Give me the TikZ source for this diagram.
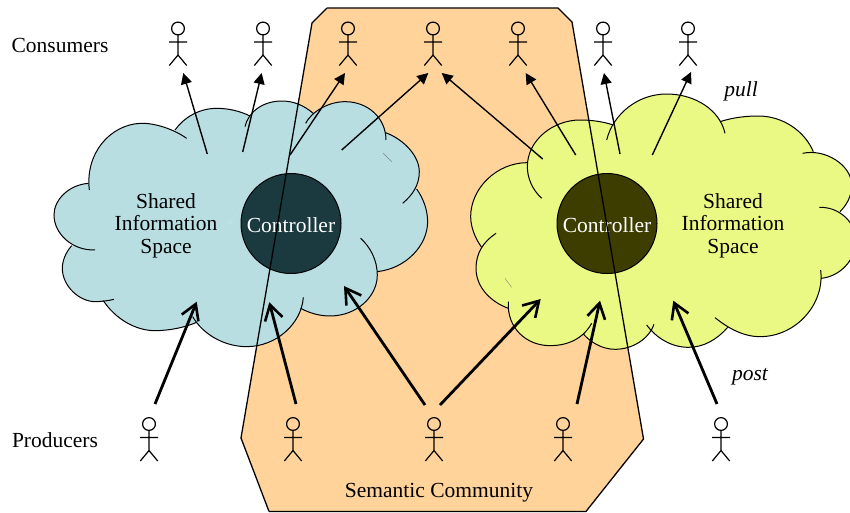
\documentclass[tikz,border=0pt]{standalone}
\usepackage{fontspec}
\setmainfont{Liberation Serif}
\usetikzlibrary{arrows.meta}
\definecolor{semfill}{HTML}{FFD399}
\definecolor{cloudL}{HTML}{B8DEE2}
\definecolor{cloudR}{HTML}{EAF884}
\definecolor{ctrlL}{HTML}{1A3A40}
\definecolor{ctrlR}{HTML}{3D3D00}
\tikzset{
  outline/.style={draw=black,line width=1.3pt,dash pattern=on 1.3pt off 0.25pt},
  lobe/.style={draw=black,line width=1pt},
  controller/.style={circle,minimum size=100pt,inner sep=0pt,draw=black,line width=1pt,text=white,font=\fontsize{21.5}{22.5}\selectfont},
  txt/.style={inner sep=0pt,font=\fontsize{21.5}{22.5}\selectfont,align=center},
  txti/.style={inner sep=0pt,font=\fontsize{21.5}{22.5}\selectfont\itshape},
  pullarrow/.style={line width=1.4pt,dash pattern=on 1.6pt off 0.3pt,-{Triangle[length=11pt,width=11pt,sep=0pt]}},
  postarrow/.style={line width=2.8pt,-{Straight Barb[length=15pt,width=18pt,line width=2.6pt]}},
  actor/.pic={
    \draw[line width=1.2pt] (0,0) circle (6.4);
    \draw[line width=1.2pt] (-9,13.5) -- (9,13.5) (0,6.4) -- (0,26.5) (-8.7,37) -- (0,26.5) -- (8.7,37);
  }
}
\newcommand{\lobeF}[2]{\fill[#2] #1 -- (\cx,400) -- cycle;}
\newcommand{\lobeD}[2]{\draw[lobe] #1;}
\newcommand{\cloudLeft}[2]{%
#1{(440,145) .. controls (390,110) and (330,98) .. (300,100) .. controls (210,105) and (135,190) .. (148,300)}{#2}
#1{(145,280) .. controls (85,285) and (42,330) .. (42,375) .. controls (42,430) and (95,482) .. (165,480)}{#2}
#1{(95,467) .. controls (75,490) and (67,515) .. (67,535) .. controls (67,590) and (120,635) .. (165,635) .. controls (185,635) and (205,632) .. (222,628)}{#2}
#1{(190,632) .. controls (225,685) and (285,722) .. (345,722) .. controls (390,722) and (435,712) .. (470,697)}{#2}
#1{(458,680) .. controls (490,735) and (555,770) .. (620,770) .. controls (710,770) and (785,700) .. (790,622)}{#2}
#1{(782,655) .. controls (810,670) and (840,678) .. (870,678) .. controls (950,678) and (1012,620) .. (1012,555) .. controls (1012,510) and (990,470) .. (962,445)}{#2}
#1{(1012,545) .. controls (1100,535) and (1163,465) .. (1163,395) .. controls (1163,360) and (1150,325) .. (1130,297)}{#2}
#1{(1037,128) .. controls (1095,150) and (1138,200) .. (1138,245) .. controls (1138,285) and (1118,315) .. (1088,340)}{#2}
#1{(1038,150) .. controls (1038,85) and (985,35) .. (915,35) .. controls (865,35) and (815,65) .. (797,100)}{#2}
#1{(820,70) .. controls (790,45) and (760,33) .. (725,33) .. controls (670,33) and (625,65) .. (615,110)}{#2}
#1{(630,78) .. controls (600,63) and (565,55) .. (530,55) .. controls (475,55) and (430,85) .. (405,120)}{#2}
}
\newcommand{\cloudRight}[2]{%
#1{(275,325) .. controls (248,300) and (232,265) .. (232,230) .. controls (232,150) and (310,90) .. (390,90) .. controls (425,90) and (460,95) .. (490,105)}{#2}
#1{(470,150) .. controls (490,70) and (565,12) .. (650,12) .. controls (735,12) and (810,60) .. (825,130)}{#2}
#1{(810,95) .. controls (850,82) and (890,78) .. (925,78) .. controls (1000,78) and (1065,125) .. (1090,185)}{#2}
#1{(1058,190) .. controls (1125,175) and (1205,225) .. (1205,285) .. controls (1205,320) and (1190,345) .. (1170,365)}{#2}
#1{(1108,352) .. controls (1170,350) and (1218,400) .. (1218,450) .. controls (1218,510) and (1170,560) .. (1113,565)}{#2}
#1{(1112,540) .. controls (1125,640) and (1040,740) .. (930,740) .. controls (880,740) and (835,715) .. (795,683)}{#2}
#1{(833,712) .. controls (800,750) and (760,772) .. (715,772) .. controls (665,772) and (620,745) .. (590,705)}{#2}
#1{(612,703) .. controls (595,750) and (545,778) .. (495,778) .. controls (455,778) and (420,755) .. (400,732)}{#2}
#1{(425,700) .. controls (400,745) and (355,767) .. (300,767) .. controls (230,767) and (170,715) .. (175,635)}{#2}
#1{(175,655) .. controls (120,635) and (78,590) .. (78,535) .. controls (78,490) and (100,455) .. (138,430)}{#2}
#1{(95,472) .. controls (75,445) and (62,410) .. (62,380) .. controls (62,295) and (140,218) .. (232,218)}{#2}
}
\begin{document}
\begin{tikzpicture}[x=1pt,y=-1pt]
\useasboundingbox (0,0) rectangle (850,512);
\clip (0,0) rectangle (850,512);
% semantic community
\coordinate (s1) at (327,8); \coordinate (s2) at (558,8); \coordinate (s3) at (572,22);
\coordinate (s4) at (643.5,439); \coordinate (s5) at (586,511.4); \coordinate (s6) at (269,511.4);
\coordinate (s7) at (241,438); \coordinate (s8) at (312,23);
\fill[semfill] (s1)--(s2)--(s3)--(s4)--(s5)--(s6)--(s7)--(s8)--cycle;
% left cloud
\begin{scope}[shift={(40,90)},x=0.3333pt,y=-0.3333pt]
\def\cx{570}
\cloudLeft{\lobeF}{cloudL}
\cloudLeft{\lobeD}{}
\draw[gray,line width=0.5pt] (1030,190)--(1055,215);
\end{scope}
% right cloud
\begin{scope}[shift={(450,90)},x=0.3333pt,y=-0.3333pt]
\def\cx{620}
\cloudRight{\lobeF}{cloudR}
\cloudRight{\lobeD}{}
\draw[gray,line width=0.4pt] (165,565)--(185,592);
\end{scope}
% controllers
\node[controller,fill=ctrlL] (ctrlA) at (291,223.5) {\raisebox{-8.5pt}[0pt][0pt]{Controller}};
\node[controller,fill=ctrlR] (ctrlB) at (607,223.5) {\raisebox{-8.5pt}[0pt][0pt]{Controller}};
% outline on top
\draw[outline] (s1)--(s2)--(s3)--(s4)--(s5)--(s6)--(s7)--(s8)--cycle;
% actors
\foreach \n/\x in {c1/178,c2/263,c3/348,c4/433,c5/518,c6/603,c7/688}
  \pic (\n) at (\x,28.5) {actor};
\foreach \n/\x in {p1/149,p2/293,p3/434,p4/563,p5/721}
  \pic (\n) at (\x,424) {actor};
% arrow ends
\coordinate (u1a) at (207.3,154); \coordinate (u1b) at (183.3,73);
\coordinate (u2a) at (242.7,152); \coordinate (u2b) at (261.7,73);
\coordinate (u3a) at (290,155);   \coordinate (u3b) at (345,73);
\coordinate (u4a) at (341.7,150); \coordinate (u4b) at (428.3,73);
\coordinate (u5a) at (542.7,159); \coordinate (u5b) at (441.7,73);
\coordinate (u6a) at (575.7,155); \coordinate (u6b) at (525.7,73);
\coordinate (u7a) at (620,154);   \coordinate (u7b) at (604,73);
\coordinate (u8a) at (652.3,155); \coordinate (u8b) at (691,72);
\foreach \i in {1,...,8} \draw[pullarrow] (u\i a) -- (u\i b);
\coordinate (d1a) at (155,404); \coordinate (d1b) at (196.7,301.7);
\coordinate (d2a) at (296,404); \coordinate (d2b) at (269.3,302.3);
\coordinate (d3a) at (425,405); \coordinate (d3b) at (344,286);
\coordinate (d4a) at (440,405); \coordinate (d4b) at (540.7,299);
\coordinate (d5a) at (577,404); \coordinate (d5b) at (600,300.7);
\coordinate (d6a) at (717,404); \coordinate (d6b) at (673.3,300.7);
\foreach \i in {1,...,6} \draw[postarrow] (d\i a) -- (d\i b);
% labels
\node[txt] (consumers) at (60,45.5) {Consumers};
\node[txt] (producers) at (55,440.5) {Producers};
\node[txt] (spaceA) at (166,225.5) {Shared\\Information\\Space};
\node[txt] (spaceB) at (733,225.5) {Shared\\Information\\Space};
\node[txti] (pull) at (741,91) {pull};
\node[txti] (post) at (750,377) {post};
\node[txt] (community) at (439,492.5) {Semantic Community};
\end{tikzpicture}
\end{document}
